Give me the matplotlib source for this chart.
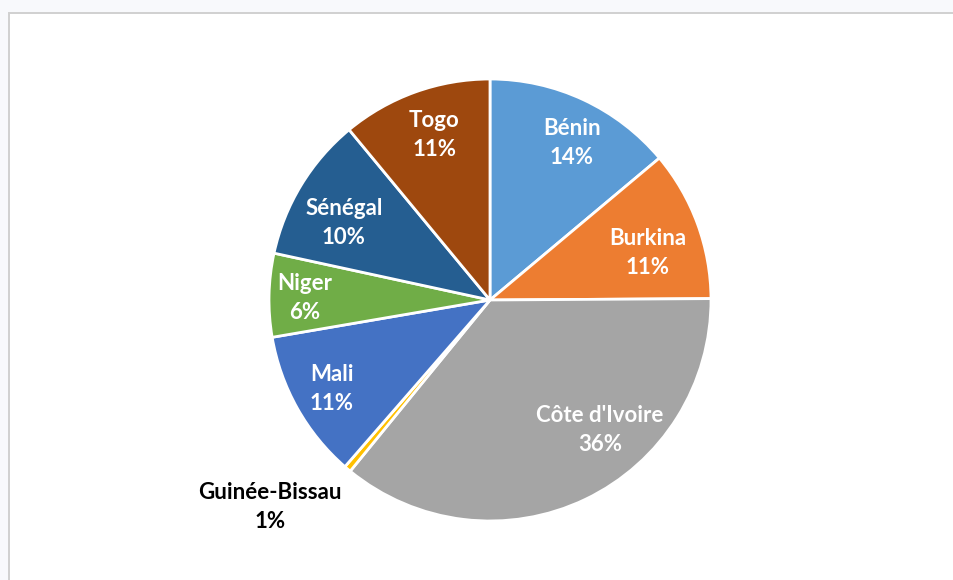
import matplotlib
matplotlib.use("Agg")
import matplotlib.pyplot as plt
from matplotlib.patches import Rectangle

countries = ["Bénin", "Burkina", "Côte d'Ivoire", "Guinée-Bissau", "Mali", "Niger", "Sénégal", "Togo"]
shares = [13.9, 11.0, 36.0, 0.5, 10.9, 6.1, 10.6, 11.0]
pct_labels = ["14%", "11%", "36%", "1%", "11%", "6%", "10%", "11%"]
colors = ["#5B9BD5", "#ED7D31", "#A5A5A5", "#FFC000", "#4472C4", "#70AD47", "#255E91", "#9E480E"]
label_pos = [(0.371, 0.710), (0.715, 0.213), (0.498, -0.588), (-0.995, -0.937),
             (-0.715, -0.403), (-0.837, 0.009), (-0.661, 0.348), (-0.253, 0.747)]
label_colors = ["white", "white", "white", "black", "white", "white", "white", "white"]

W, H = 954, 580
cx, cy, R = 490, 300, 221

fig = plt.figure(figsize=(W / 100, H / 100), dpi=100)
fig.patch.set_facecolor("#f8f9fc")
fig.patches.append(Rectangle((9 / W, -0.1), 1.2, 1.1 - 13 / H, transform=fig.transFigure,
                             facecolor="white", edgecolor="#d0d0d0", linewidth=1.4, zorder=-1))

ax = fig.add_axes([0, 0, 1, 1])
ax.set_zorder(2)
ax.patch.set_visible(False)
ax.pie(shares, colors=colors, startangle=90, counterclock=False, radius=1,
       wedgeprops=dict(edgecolor="white", linewidth=2.0))
ax.set_xlim(-cx / R, (W - cx) / R)
ax.set_ylim(-(H - cy) / R, cy / R)
ax.set_aspect("auto")
ax.axis("off")

for name, pct, (x, y), c in zip(countries, pct_labels, label_pos, label_colors):
    ax.text(x, y, f"{name}\n{pct}", ha="center", va="center", color=c,
            fontsize=16, fontweight="bold", family=["Lato", "DejaVu Sans"],
            linespacing=1.5)

fig.savefig("out.png", dpi=100, facecolor=fig.get_facecolor())
